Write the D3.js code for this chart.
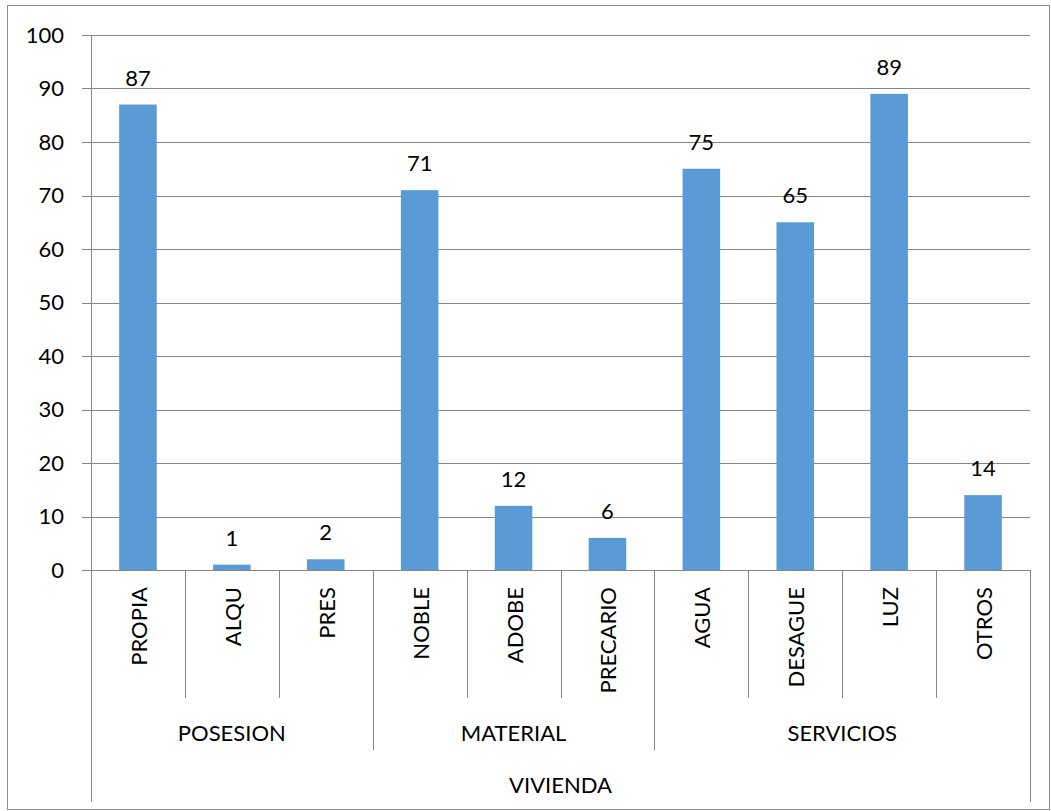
<!DOCTYPE html>
<html>
<head>
<meta charset="utf-8">
<script src="https://cdn.jsdelivr.net/npm/d3@7/dist/d3.min.js"></script>
<style>
  body { margin: 0; background: #fff; }
  svg text { font-family: Lato, "Open Sans", sans-serif; fill: #000; }
</style>
</head>
<body>
<div id="chart"></div>
<script>
var categories = ["PROPIA", "ALQU", "PRES", "NOBLE", "ADOBE", "PRECARIO", "AGUA", "DESAGUE", "LUZ", "OTROS"];
var values = [87, 1, 2, 71, 12, 6, 75, 65, 89, 14];
var groups = ["POSESION", "POSESION", "POSESION", "MATERIAL", "MATERIAL", "MATERIAL", "SERVICIOS", "SERVICIOS", "SERVICIOS", "SERVICIOS"];
var topLabel = "VIVIENDA";
var yTicks = [0, 10, 20, 30, 40, 50, 60, 70, 80, 90, 100];

var width = 1051, height = 811;
var plot = { left: 91, right: 1030, top: 35, bottom: 570 };
var fontSize = "22px";

var svg = d3.select("#chart").append("svg")
  .attr("width", width)
  .attr("height", height);

// chart border
svg.append("rect")
  .attr("x", 7.5).attr("y", 5.5)
  .attr("width", 1042).attr("height", 804)
  .attr("fill", "none")
  .attr("stroke", "#8c8c8c")
  .attr("stroke-width", 1);

var x = d3.scaleBand()
  .domain(d3.range(categories.length))
  .range([plot.left, plot.right])
  .paddingInner(0.6)
  .paddingOuter(0.3);

var xb = d3.scaleBand()
  .domain(d3.range(categories.length))
  .range([plot.left, plot.right]);

var y = d3.scaleLinear()
  .domain([0, 100])
  .range([plot.bottom, plot.top]);

var gridColor = "#868686";

// gridlines + y ticks
svg.selectAll(".grid")
  .data(yTicks)
  .enter()
  .append("line")
  .attr("class", "grid")
  .attr("x1", plot.left - 9)
  .attr("x2", plot.right)
  .attr("y1", function(d) { return Math.round(y(d)) + 0.5; })
  .attr("y2", function(d) { return Math.round(y(d)) + 0.5; })
  .attr("stroke", gridColor)
  .attr("stroke-width", 1);

svg.selectAll(".ytick")
  .data(yTicks)
  .enter()
  .append("text")
  .attr("class", "ytick")
  .attr("x", 64)
  .attr("y", function(d) { return y(d); })
  .attr("dy", "0.35em")
  .attr("text-anchor", "end")
  .style("font-size", fontSize)
  .text(function(d) { return d; });

// y axis line
svg.append("line")
  .attr("x1", plot.left + 0.5).attr("x2", plot.left + 0.5)
  .attr("y1", plot.top).attr("y2", 802)
  .attr("stroke", gridColor);

// bars
svg.selectAll(".bar")
  .data(values)
  .enter()
  .append("rect")
  .attr("class", "bar")
  .attr("x", function(d, i) { return x(i); })
  .attr("width", x.bandwidth())
  .attr("y", function(d) { return y(d); })
  .attr("height", function(d) { return y(0) - y(d); })
  .attr("fill", "#5b9bd5");

// value labels
svg.selectAll(".vlabel")
  .data(values)
  .enter()
  .append("text")
  .attr("class", "vlabel")
  .attr("x", function(d, i) { return xb(i) + xb.bandwidth() / 2; })
  .attr("y", function(d) { return y(d) - 19; })
  .attr("text-anchor", "middle")
  .style("font-size", fontSize)
  .text(function(d) { return d; });

// category separators (level 1)
svg.selectAll(".sep1")
  .data(d3.range(1, categories.length + 1))
  .enter()
  .append("line")
  .attr("class", "sep1")
  .attr("x1", function(i) { return Math.round(xb(i - 1) + xb.bandwidth()) + 0.5; })
  .attr("x2", function(i) { return Math.round(xb(i - 1) + xb.bandwidth()) + 0.5; })
  .attr("y1", plot.bottom)
  .attr("y2", function(i) {
    if (i === categories.length) return 802;
    return groups[i] !== groups[i - 1] ? 750 : 698;
  })
  .attr("stroke", gridColor);

// category labels (rotated)
svg.selectAll(".clabel")
  .data(categories)
  .enter()
  .append("text")
  .attr("class", "clabel")
  .attr("transform", function(d, i) {
    return "translate(" + (xb(i) + xb.bandwidth() / 2 + 9) + "," + 587 + ") rotate(-90)";
  })
  .attr("text-anchor", "end")
  .style("font-size", fontSize)
  .text(function(d) { return d; });

// group labels (level 2)
var groupNames = Array.from(new Set(groups));
svg.selectAll(".glabel")
  .data(groupNames)
  .enter()
  .append("text")
  .attr("class", "glabel")
  .attr("x", function(g) {
    var idx = d3.range(groups.length).filter(function(i) { return groups[i] === g; });
    return (xb(idx[0]) + xb(idx[idx.length - 1]) + xb.bandwidth()) / 2;
  })
  .attr("y", 733)
  .attr("dy", "0.35em")
  .attr("text-anchor", "middle")
  .style("font-size", fontSize)
  .text(function(g) { return g; });

// top level label
svg.append("text")
  .attr("x", (plot.left + plot.right) / 2)
  .attr("y", 785)
  .attr("dy", "0.35em")
  .attr("text-anchor", "middle")
  .style("font-size", fontSize)
  .text(topLabel);
</script>
</body>
</html>
